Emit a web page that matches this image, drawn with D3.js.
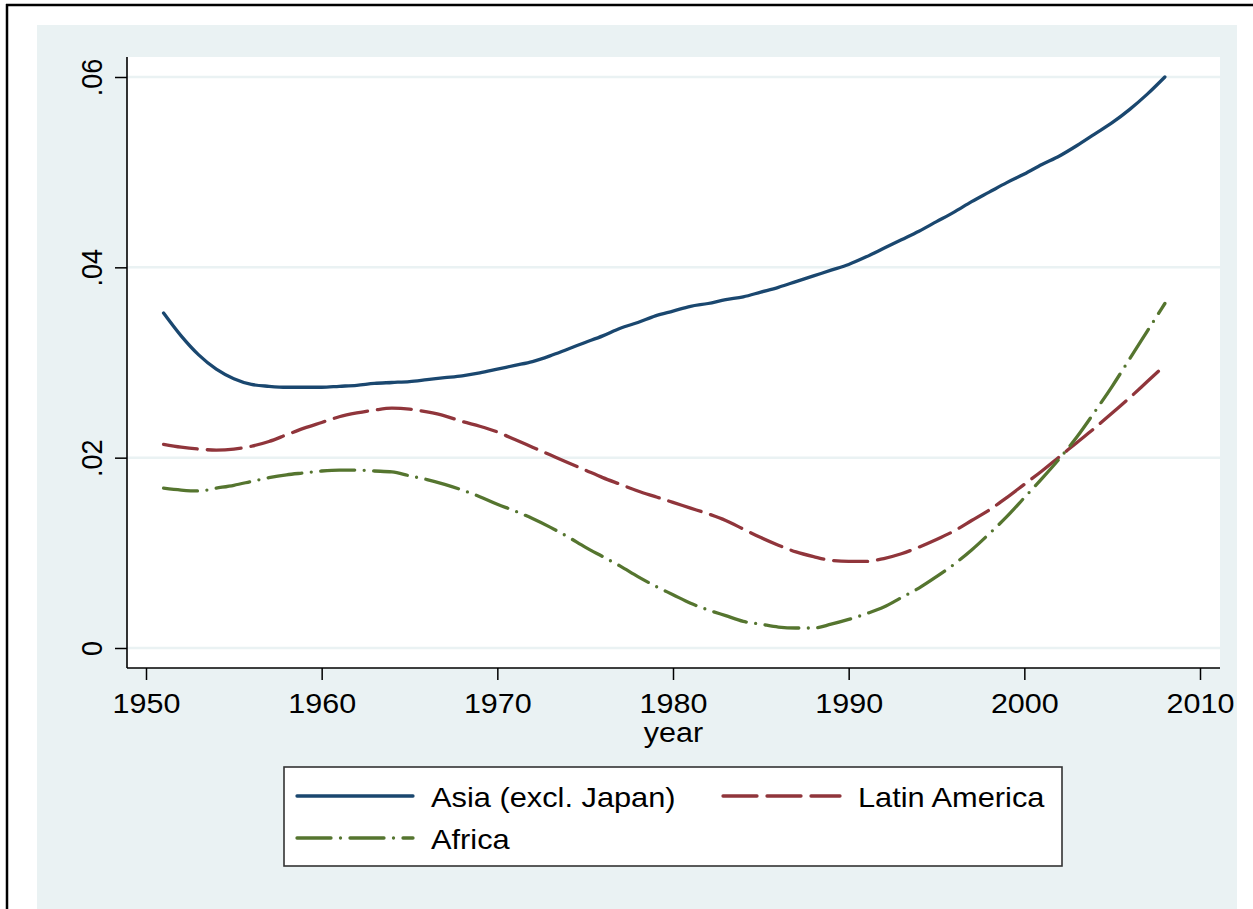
<!DOCTYPE html>
<html>
<head>
<meta charset="utf-8">
<script src="https://cdn.jsdelivr.net/npm/d3@7"></script>
<style>
  html, body { margin: 0; padding: 0; background: #ffffff; }
  svg { display: block; }
  text { font-family: "Liberation Sans", Arial, Helvetica, sans-serif; fill: #000; }
</style>
</head>
<body>
<svg id="chart" width="1253" height="909"></svg>
<script>
// ---- data ----
const years = [1951,1952,1953,1954,1955,1956,1957,1958,1959,1960,
               1961,1962,1963,1964,1965,1966,1967,1968,1969,1970,
               1971,1972,1973,1974,1975,1976,1977,1978,1979,1980,
               1981,1982,1983,1984,1985,1986,1987,1988,1989,1990,
               1991,1992,1993,1994,1995,1996,1997,1998,1999,2000,
               2001,2002,2003,2004,2005,2006,2007,2008];

const asia = [.0352,.0328,.0308,.0293,.0283,.0277,.0275,.0274,.0274,.0274,
              .0275,.0276,.0278,.0279,.0280,.0282,.0284,.0286,.0289,.0293,
              .0297,.0301,.0307,.0314,.0321,.0328,.0336,.0342,.0349,.0354,
              .0359,.0362,.0366,.0369,.0374,.0379,.0385,.0391,.0397,.0403,
              .0411,.0420,.0429,.0438,.0448,.0458,.0469,.0479,.0489,.0498,
              .0508,.0517,.0528,.0540,.0552,.0566,.0582,.0600];

const latinAmerica = [.0214,.0211,.0209,.0208,.0209,.0212,.0217,.0224,.0231,.0237,
                      .0243,.0247,.0250,.0252,.0251,.0248,.0244,.0238,.0233,.0227,
                      .0219,.0211,.0203,.0195,.0187,.0179,.0172,.0165,.0159,.0153,
                      .0147,.0141,.0134,.0125,.0116,.0108,.0101,.0096,.0092,.0091,
                      .0091,.0094,.0099,.0106,.0114,.0123,.0134,.0145,.0158,.0172,
                      .0186,.0201,.0216,.0231,.0247,.0263,.0280,.0297];

const africa = [.0168,.0166,.0165,.0168,.0171,.0175,.0179,.0182,.0184,.0186,
                .0187,.0187,.0186,.0185,.0181,.0177,.0172,.0166,.0159,.0151,
                .0144,.0136,.0127,.0117,.0106,.0096,.0086,.0075,.0065,.0056,
                .0047,.0040,.0034,.0028,.0025,.0022,.0021,.0021,.0025,.0030,
                .0036,.0043,.0053,.0063,.0075,.0088,.0103,.0120,.0138,.0158,
                .0178,.0199,.0222,.0248,.0275,.0304,.0333,.0362];

const seriesNames = ["Asia (excl. Japan)", "Latin America", "Africa"];
const xTicks = [1950, 1960, 1970, 1980, 1990, 2000, 2010];
const yTicks = [0, 0.02, 0.04, 0.06];
const yTickLabels = ["0", ".02", ".04", ".06"];
const xTitle = "year";

// ---- styles ----
const colors = ["#1a476f", "#90353b", "#55752f"];
const dashes = [null, "34,10", "34,9.5,0,9.5"];
const bg = "#eaf2f3";

const svg = d3.select("#chart");

// outer frame
svg.append("line").attr("x1", 7).attr("x2", 7).attr("y1", 4).attr("y2", 909)
  .attr("stroke", "#000").attr("stroke-width", 2.5);
svg.append("line").attr("x1", 6).attr("x2", 1253).attr("y1", 5).attr("y2", 5)
  .attr("stroke", "#000").attr("stroke-width", 2.5);

// graph background
svg.append("rect").attr("x", 37).attr("y", 25).attr("width", 1200).attr("height", 900)
  .attr("fill", bg);

// plot region
const P = { left: 127, top: 57, right: 1220, bottom: 668 };
svg.append("rect").attr("x", P.left).attr("y", P.top)
  .attr("width", P.right - P.left).attr("height", P.bottom - P.top)
  .attr("fill", "#ffffff");

const x = d3.scaleLinear().domain([1950, 2010]).range([146, 1200]);
const y = d3.scaleLinear().domain([0, 0.06]).range([648, 77]);

// gridlines
svg.append("g").selectAll("line").data(yTicks).join("line")
  .attr("x1", P.left).attr("x2", P.right)
  .attr("y1", d => y(d)).attr("y2", d => y(d))
  .attr("stroke", bg).attr("stroke-width", 2.5);

// series
const lineGen = d3.line().x(d => x(d[0])).y(d => y(d[1])).curve(d3.curveMonotoneX);
[asia, latinAmerica, africa].forEach((vals, i) => {
  const pts = years.map((yr, k) => [yr, vals[k]]);
  svg.append("path").datum(pts)
    .attr("d", lineGen)
    .attr("fill", "none")
    .attr("stroke", colors[i])
    .attr("stroke-width", 3.3)
    .attr("stroke-linecap", "round")
    .attr("stroke-linejoin", "round")
    .attr("stroke-dasharray", dashes[i]);
});

// x axis
const xAxis = svg.append("g").attr("transform", `translate(0,${P.bottom})`)
  .call(d3.axisBottom(x).tickValues(xTicks).tickFormat(d3.format("d")).tickSize(12));
xAxis.select(".domain").remove();
xAxis.selectAll(".tick line").attr("stroke", "#000").attr("stroke-width", 1.5);
xAxis.selectAll(".tick text")
  .attr("y", 45).attr("dy", 0)
  .attr("font-size", 27)
  .attr("font-family", "Liberation Sans, Arial, sans-serif")
  .attr("fill", "#000")
  .attr("transform", "scale(1.13,1)");
svg.append("line").attr("x1", P.left).attr("x2", P.right)
  .attr("y1", P.bottom).attr("y2", P.bottom)
  .attr("stroke", "#000").attr("stroke-width", 1.6);

// y axis
const yAxis = svg.append("g").attr("transform", `translate(${P.left},0)`)
  .call(d3.axisLeft(y).tickValues(yTicks).tickFormat((d, i) => yTickLabels[i]).tickSize(12));
yAxis.select(".domain").remove();
yAxis.selectAll(".tick line").attr("stroke", "#000").attr("stroke-width", 1.5);
yAxis.selectAll(".tick text")
  .attr("x", 0).attr("y", 0).attr("dy", 0)
  .attr("text-anchor", "middle")
  .attr("font-size", 27)
  .attr("font-family", "Liberation Sans, Arial, sans-serif")
  .attr("fill", "#000")
  .attr("transform", "translate(-25,0) rotate(-90) scale(1,1.1)");
svg.append("line").attr("x1", P.left).attr("x2", P.left)
  .attr("y1", P.top).attr("y2", P.bottom)
  .attr("stroke", "#000").attr("stroke-width", 1.6);

// x title
svg.append("text")
  .attr("transform", `translate(${(P.left + P.right) / 2},742) scale(1.13,1)`)
  .attr("text-anchor", "middle")
  .attr("font-size", 27)
  .text(xTitle);

// legend
const L = svg.append("g");
L.append("rect").attr("x", 284).attr("y", 767).attr("width", 778).attr("height", 99)
  .attr("fill", "#fff").attr("stroke", "#333").attr("stroke-width", 1.6);
const legendItems = [
  { x0: 297, x1: 413, ly: 796, tx: 431, ty: 807 },
  { x0: 723, x1: 840, ly: 796, tx: 858, ty: 807 },
  { x0: 297, x1: 413, ly: 838, tx: 431, ty: 849 }
];
legendItems.forEach((it, i) => {
  L.append("line")
    .attr("x1", it.x0).attr("x2", it.x1).attr("y1", it.ly).attr("y2", it.ly)
    .attr("stroke", colors[i]).attr("stroke-width", 3.3)
    .attr("stroke-linecap", "round")
    .attr("stroke-dasharray", dashes[i]);
  L.append("text")
    .attr("transform", `translate(${it.tx},${it.ty}) scale(1.08,1)`)
    .attr("font-size", 28.5)
    .text(seriesNames[i]);
});
</script>
</body>
</html>
